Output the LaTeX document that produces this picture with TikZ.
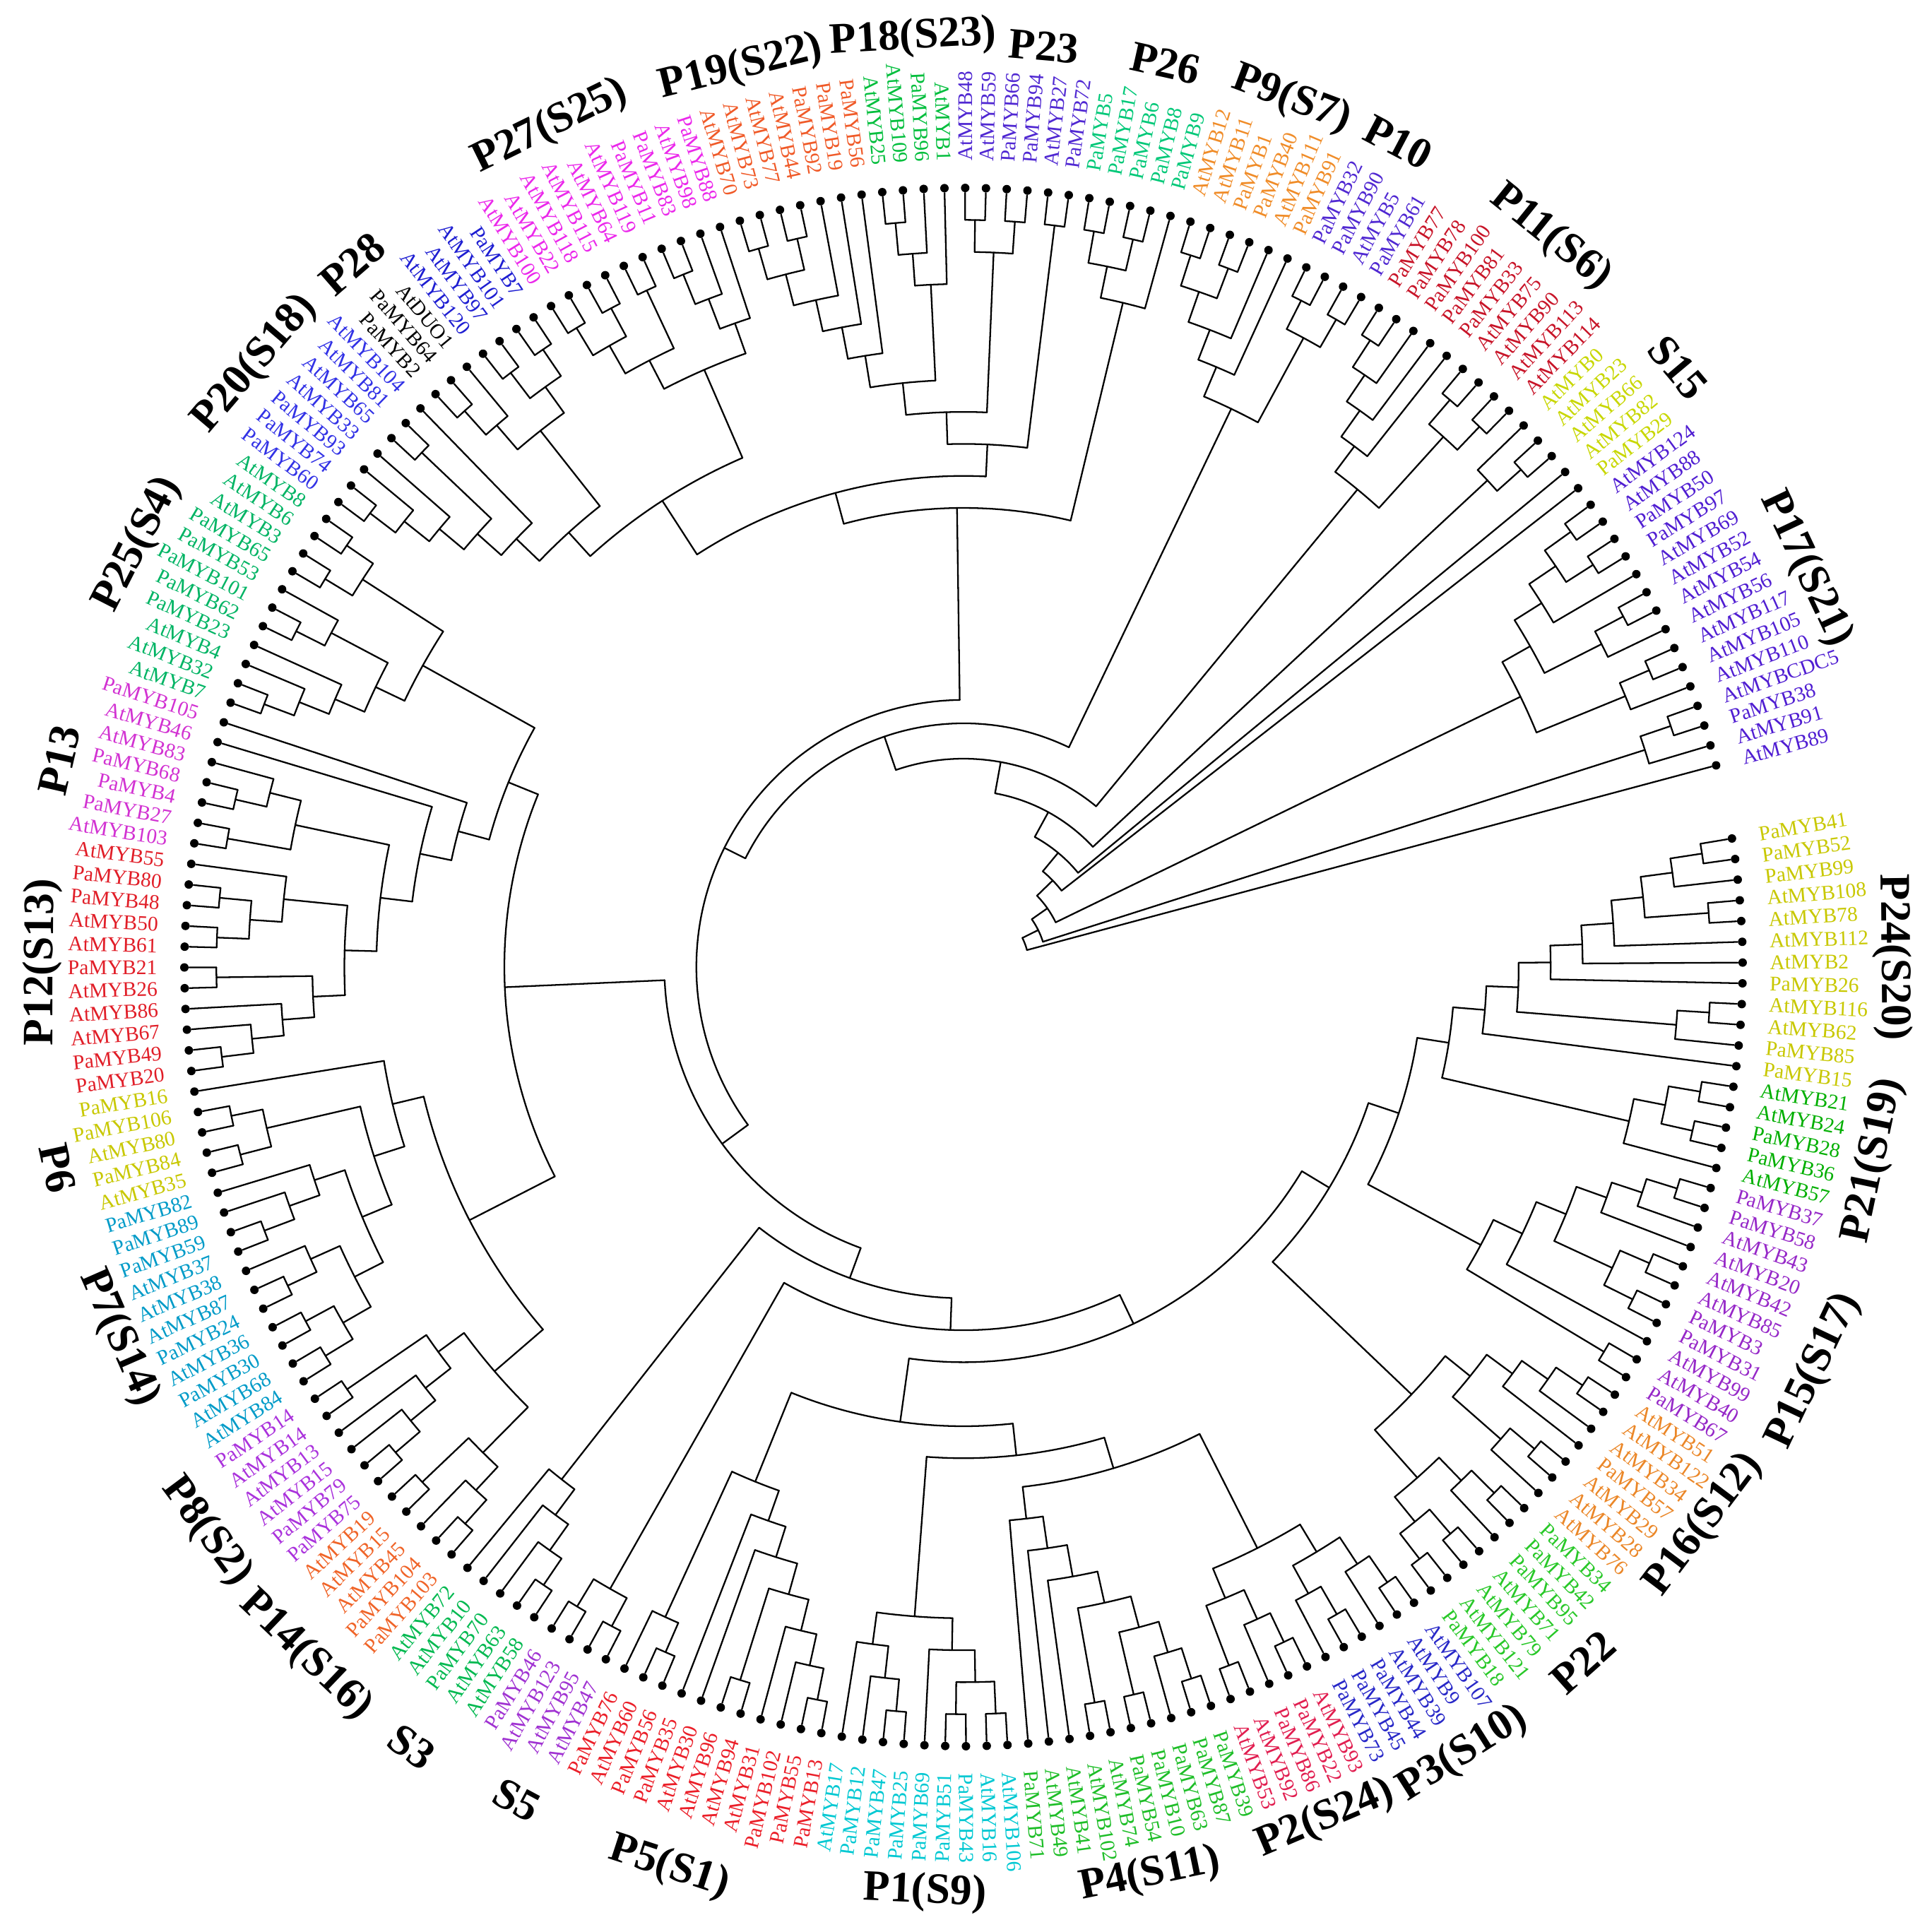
\documentclass[tikz,border=0pt]{standalone}
\usepackage{fontspec}
\setmainfont{Liberation Serif}
\definecolor{cP24}{RGB}{200,200,0}
\definecolor{cP21}{RGB}{0,175,0}
\definecolor{cP15}{RGB}{150,40,200}
\definecolor{cP16}{RGB}{235,135,40}
\definecolor{cP22}{RGB}{40,200,40}
\definecolor{cP3}{RGB}{40,40,200}
\definecolor{cP2}{RGB}{225,30,80}
\definecolor{cP4}{RGB}{30,190,40}
\definecolor{cP1}{RGB}{0,200,210}
\definecolor{cP5}{RGB}{235,30,40}
\definecolor{cS5}{RGB}{160,50,210}
\definecolor{cS3}{RGB}{0,185,80}
\definecolor{cP14}{RGB}{240,100,40}
\definecolor{cP8}{RGB}{170,50,220}
\definecolor{cP7}{RGB}{0,155,200}
\definecolor{cP6}{RGB}{200,200,0}
\definecolor{cP12}{RGB}{225,30,40}
\definecolor{cP13}{RGB}{210,50,210}
\definecolor{cP25}{RGB}{0,180,100}
\definecolor{cP20}{RGB}{50,50,230}
\definecolor{cP28}{RGB}{0,0,0}
\definecolor{cB4}{RGB}{30,30,210}
\definecolor{cP27}{RGB}{235,40,235}
\definecolor{cP19}{RGB}{240,90,40}
\definecolor{cP18}{RGB}{0,190,60}
\definecolor{cP23}{RGB}{80,40,210}
\definecolor{cP26}{RGB}{0,200,120}
\definecolor{cP9}{RGB}{240,140,40}
\definecolor{cP10}{RGB}{80,40,210}
\definecolor{cP11}{RGB}{200,20,40}
\definecolor{cS15}{RGB}{200,215,0}
\definecolor{cP17}{RGB}{80,30,210}

% leaf: index, colour, text
\newcommand\mylf[3]{%
  \pgfmathsetmacro\myLA{9.5-(#1-1)*1.528}%
  \expandafter\xdef\csname ang@L#1\endcsname{\myLA}%
  \expandafter\xdef\csname h@L#1\endcsname{0}%
  \node[leafdot] (L#1) at (\myLA:11.03) {};%
  \pgfmathsetmacro\myLC{cos(\myLA)}%
  \ifdim\myLC pt>0pt
    \node[leaflab, text=#2, anchor=west, rotate=\myLA] (T#1) at (\myLA:11.41) {#3};%
  \else
    \pgfmathsetmacro\myLR{\myLA+180}%
    \node[leaflab, text=#2, anchor=east, rotate=\myLR] (T#1) at (\myLA:11.41) {#3};%
  \fi
}
\newcommand\grpleaves[3]{%
  \xdef\myIdx{#1}%
  \foreach \myNm in {#3}{%
    \edef\myTmp{\noexpand\mylf{\myIdx}{#2}{\myNm}}\myTmp
    \pgfmathtruncatemacro\myNx{\myIdx+1}\xdef\myIdx{\myNx}%
  }%
}
% clade: name, radius (empty = from node height), children
\newcommand\cladeGen[3]{%
  \gdef\myMin{1000}\gdef\myMax{-1000}\gdef\myH{0}%
  \foreach \myCh in {#3}{%
    \edef\myChA{\csname ang@\myCh\endcsname}%
    \edef\myChH{\csname h@\myCh\endcsname}%
    \pgfmathsetmacro\myT{min(\myMin,\myChA)}\xdef\myMin{\myT}%
    \pgfmathsetmacro\myT{max(\myMax,\myChA)}\xdef\myMax{\myT}%
    \pgfmathtruncatemacro\myT{max(\myH,\myChH)}\xdef\myH{\myT}%
  }%
  \pgfmathtruncatemacro\myHH{\myH+1}%
  \if\relax\detokenize{#2}\relax
    \pgfmathsetmacro\myR{11.03-0.453*\myHH}%
  \else
    \def\myR{#2}%
  \fi
  \foreach \myCh in {#3}{%
    \edef\myChA{\csname ang@\myCh\endcsname}%
    \draw[branch] (\myCh) -- (\myChA:\myR);%
  }%
  \draw[branch] (\myMin:\myR) arc[start angle=\myMin, end angle=\myMax, radius=\myR];%
  \pgfmathsetmacro\myMid{(\myMin+\myMax)/2}%
  \expandafter\xdef\csname ang@#1\endcsname{\myMid}%
  \expandafter\xdef\csname h@#1\endcsname{\myHH}%
  \coordinate (#1) at (\myMid:\myR);%
}
\newcommand\clade[2]{\cladeGen{#1}{}{#2}}
\newcommand\cladeR[3]{\cladeGen{#1}{#2}{#3}}
% group label: name, angle, radius, text
\newcommand\grp[4]{%
  \pgfmathsetmacro\myGR{#2>=0 ? #2-90 : #2+90}%
  \node[grouplab, rotate=\myGR] (#1) at (#2:#3) {#4};%
}

\begin{document}
\begin{tikzpicture}[
  branch/.style={line width=0.65pt, line cap=round, line join=round},
  leafdot/.style={circle, fill=black, inner sep=0pt, minimum size=0.12cm},
  leaflab/.style={inner sep=0pt, font=\fontsize{8.4}{9}\selectfont},
  grouplab/.style={inner sep=0pt, font=\fontsize{17.5}{20}\selectfont\bfseries},
]
\useasboundingbox (-13.64,-13.66) rectangle (13.71,13.69);
\fill[white] (-13.64,-13.66) rectangle (13.71,13.69);

\grpleaves{1}{cP24}{PaMYB41,PaMYB52,PaMYB99,AtMYB108,AtMYB78,AtMYB112,AtMYB2,PaMYB26,AtMYB116,AtMYB62,PaMYB85,PaMYB15}
\grpleaves{13}{cP21}{AtMYB21,AtMYB24,PaMYB28,PaMYB36,AtMYB57}
\grpleaves{18}{cP15}{PaMYB37,PaMYB58,AtMYB43,AtMYB20,AtMYB42,AtMYB85,PaMYB3,PaMYB31,AtMYB99,AtMYB40,PaMYB67}
\grpleaves{29}{cP16}{AtMYB51,AtMYB122,AtMYB34,PaMYB57,AtMYB29,AtMYB28,AtMYB76}
\grpleaves{36}{cP22}{PaMYB34,PaMYB42,PaMYB95,AtMYB71,AtMYB79,AtMYB121,PaMYB18}
\grpleaves{43}{cP3}{AtMYB107,AtMYB9,AtMYB39,PaMYB44,PaMYB45,PaMYB73}
\grpleaves{49}{cP2}{AtMYB93,PaMYB22,PaMYB86,AtMYB92,AtMYB53}
\grpleaves{54}{cP4}{PaMYB39,PaMYB87,PaMYB63,PaMYB10,PaMYB54,AtMYB74,AtMYB102,AtMYB41,AtMYB49,PaMYB71}
\grpleaves{64}{cP1}{AtMYB106,AtMYB16,PaMYB43,PaMYB51,PaMYB69,PaMYB25,PaMYB47,PaMYB12,AtMYB17}
\grpleaves{73}{cP5}{PaMYB13,PaMYB55,PaMYB102,AtMYB31,AtMYB94,AtMYB96,AtMYB30,PaMYB35,PaMYB56,AtMYB60,PaMYB76}
\grpleaves{84}{cS5}{AtMYB47,AtMYB95,AtMYB123,PaMYB46}
\grpleaves{88}{cS3}{AtMYB58,AtMYB63,PaMYB70,AtMYB10,AtMYB72}
\grpleaves{93}{cP14}{PaMYB103,PaMYB104,AtMYB45,AtMYB15,AtMYB19}
\grpleaves{98}{cP8}{PaMYB75,PaMYB79,AtMYB15,AtMYB13,AtMYB14,PaMYB14}
\grpleaves{104}{cP7}{AtMYB84,AtMYB68,PaMYB30,AtMYB36,PaMYB24,AtMYB87,AtMYB38,AtMYB37,PaMYB59,PaMYB89,PaMYB82}
\grpleaves{115}{cP6}{AtMYB35,PaMYB84,AtMYB80,PaMYB106,PaMYB16}
\grpleaves{120}{cP12}{PaMYB20,PaMYB49,AtMYB67,AtMYB86,AtMYB26,PaMYB21,AtMYB61,AtMYB50,PaMYB48,PaMYB80,AtMYB55}
\grpleaves{131}{cP13}{AtMYB103,PaMYB27,PaMYB4,PaMYB68,AtMYB83,AtMYB46,PaMYB105}
\grpleaves{138}{cP25}{AtMYB7,AtMYB32,AtMYB4,PaMYB23,PaMYB62,PaMYB101,PaMYB53,PaMYB65,AtMYB3,AtMYB6,AtMYB8}
\grpleaves{149}{cP20}{PaMYB60,PaMYB74,PaMYB93,AtMYB33,AtMYB65,AtMYB81,AtMYB104}
\grpleaves{156}{cP28}{PaMYB2,PaMYB64,AtDUO1}
\grpleaves{159}{cB4}{AtMYB120,AtMYB97,AtMYB101,PaMYB7}
\grpleaves{163}{cP27}{AtMYB100,AtMYB22,AtMYB118,AtMYB115,AtMYB64,AtMYB119,PaMYB11,PaMYB83,AtMYB98,PaMYB88}
\grpleaves{173}{cP19}{AtMYB70,AtMYB73,AtMYB77,AtMYB44,PaMYB92,PaMYB19,PaMYB56}
\grpleaves{180}{cP18}{AtMYB25,AtMYB109,PaMYB96,AtMYB1}
\grpleaves{184}{cP23}{AtMYB48,AtMYB59,PaMYB66,PaMYB94,AtMYB27,PaMYB72}
\grpleaves{190}{cP26}{PaMYB5,PaMYB17,PaMYB6,PaMYB8,PaMYB9}
\grpleaves{195}{cP9}{AtMYB12,AtMYB11,PaMYB1,PaMYB40,AtMYB111,PaMYB91}
\grpleaves{201}{cP10}{PaMYB32,PaMYB90,AtMYB5,PaMYB61}
\grpleaves{205}{cP11}{PaMYB77,PaMYB78,PaMYB100,PaMYB81,PaMYB33,AtMYB75,AtMYB90,AtMYB113,AtMYB114}
\grpleaves{214}{cS15}{AtMYB0,AtMYB23,AtMYB66,AtMYB82,PaMYB29}
\grpleaves{219}{cP17}{AtMYB124,AtMYB88,PaMYB50,PaMYB97,AtMYB69,AtMYB52,AtMYB54,AtMYB56,AtMYB117,AtMYB105,AtMYB110,AtMYBCDC5,PaMYB38,AtMYB91,AtMYB89}

% P24 + P21
\clade{a1}{L1,L2}
\clade{a2}{a1,L3}
\clade{a3}{L4,L5}
\clade{a4}{a2,a3}
\clade{a5}{a4,L6}
\clade{a6}{a5,L7}
\clade{a7}{a6,L8}
\clade{a8}{L9,L10}
\clade{a9}{a8,L11}
\clade{a10}{a7,a9}
\clade{a11}{a10,L12}
\clade{a12}{L13,L14}
\clade{a13}{L15,L16}
\clade{a14}{a12,a13}
\clade{a15}{a14,L17}
\clade{a16}{a11,a15}
% P15
\clade{b1}{L18,L19}
\clade{b2}{b1,L20}
\clade{b3}{b2,L21}
\clade{b4}{L22,L23}
\clade{b5}{L24,L25}
\clade{b6}{b4,b5}
\clade{b7}{b3,b6}
\clade{b8}{b7,L26}
\clade{b9}{L27,L28}
\clade{b10}{b8,b9}
\clade{g0}{a16,b10}
% P16, P22
\clade{c1}{L29,L30}
\clade{c2}{c1,L31}
\clade{c3}{c2,L32}
\clade{c4}{L33,L34}
\clade{c5}{c4,L35}
\clade{c6}{c3,c5}
\clade{d1}{L36,L37}
\clade{d2}{d1,L38}
\clade{d3}{L39,L40}
\clade{d4}{L41,L42}
\clade{d5}{d3,d4}
\clade{d6}{d2,d5}
\clade{e1}{c6,d6}
\clade{e2}{g0,e1}
% P3, P2
\clade{f1}{L43,L44}
\clade{f2}{f1,L45}
\clade{f3}{L46,L47}
\clade{f4}{f3,L48}
\clade{f5}{f2,f4}
\clade{g1}{L49,L50}
\clade{g2}{g1,L51}
\clade{g3}{L52,L53}
\clade{g4}{g2,g3}
\clade{g5}{f5,g4}
% P4
\clade{h1}{L54,L55}
\clade{h2}{h1,L56}
\clade{h3}{L57,L58}
\clade{h4}{h3,h2}
\clade{h5}{L59,L60}
\clade{h6}{h5,h4}
\clade{h7}{h6,L61}
\clade{h8}{h7,L62}
\clade{h9}{h8,L63}
\clade{h10}{h9,g5}
% P1
\clade{i1}{L64,L65}
\clade{i2}{L66,L67}
\clade{i3}{i1,i2}
\clade{i4}{i3,L68}
\clade{i5}{L69,L70}
\clade{i6}{i5,L71}
\clade{i7}{i6,L72}
\clade{i8}{i4,i7}
\clade{i9}{h10,i8}
% P5
\clade{k1}{L73,L74}
\clade{k2}{k1,L75}
\clade{k3}{k2,L76}
\clade{k4}{L77,L78}
\clade{k5}{k3,k4}
\clade{k6}{k5,L79}
\clade{k7}{k6,L80}
\clade{k8}{L81,L82}
\clade{k9}{k8,L83}
\clade{k10}{k7,k9}
\clade{m0}{k10,i9}
\clade{q0}{m0,e2}
% S5, S3
\clade{s1}{L84,L85}
\clade{s2}{L86,L87}
\clade{s3}{s1,s2}
\clade{t1}{L88,L89}
\clade{t2}{t1,L90}
\clade{t3}{t2,L91}
\clade{t4}{t3,L92}
% P14, P8
\clade{u1}{L93,L94}
\clade{u2}{u1,L95}
\clade{u3}{L96,L97}
\clade{u4}{u2,u3}
\clade{v1}{L98,L99}
\clade{v2}{v1,L100}
\clade{v3}{v2,L101}
\clade{v4}{L102,L103}
\clade{v5}{v3,v4}
\clade{v6}{u4,v5}
% P7, P6
\clade{w1}{L104,L105}
\clade{w2}{L106,L107}
\clade{w3}{w1,w2}
\clade{w4}{L108,L109}
\clade{w5}{w4,L110}
\clade{w6}{w3,w5}
\clade{w7}{L111,L112}
\clade{w8}{w7,L113}
\clade{w9}{w8,L114}
\clade{w10}{w6,w9}
\clade{x1}{L115,L116}
\clade{x2}{L117,L118}
\clade{x3}{x1,x2}
\clade{x4}{w10,x3}
\clade{x5}{x4,L119}
\clade{lb}{v6,x5}
% P12, P13
\clade{z1}{L120,L121}
\clade{z2}{z1,L122}
\clade{z3}{z2,L123}
\clade{z4}{L124,L125}
\clade{z5}{z3,z4}
\clade{z6}{L126,L127}
\clade{z7}{L128,L129}
\clade{z8}{z6,z7}
\clade{z9}{z8,L130}
\clade{z10}{z5,z9}
\clade{y1}{L131,L132}
\clade{y2}{L133,L134}
\clade{y3}{y2,L135}
\clade{y4}{y1,y3}
\clade{z11}{z10,y4}
\clade{z12}{z11,L136}
\clade{z13}{z12,L137}
% P25
\clade{p1}{L138,L139}
\clade{p2}{p1,L140}
\clade{p3}{p2,L141}
\clade{p4}{L142,L143}
\clade{p5}{p4,L144}
\clade{p6}{p3,p5}
\clade{p7}{L145,L146}
\clade{p8}{L147,L148}
\clade{p9}{p7,p8}
\clade{p10}{p6,p9}
\clade{zz9}{p10,z13}
\clade{nl}{lb,zz9}
% P20, P28, blue group
\clade{q1}{L149,L150}
\clade{q2}{q1,L151}
\clade{q3}{q2,L152}
\clade{q4}{L153,L154}
\clade{q5}{q3,q4}
\clade{q6}{q5,L155}
\clade{r1}{L156,L157}
\clade{r2}{r1,L158}
\clade{r3}{L159,L160}
\clade{r4}{L161,L162}
\clade{r5}{r3,r4}
\clade{r6}{r2,r5}
\clade{r7}{q6,r6}
% P27
\clade{n1}{L163,L164}
\clade{n2}{L165,L166}
\clade{n3}{n1,n2}
\clade{n4}{L167,L168}
\clade{n5}{n3,n4}
\clade{n6}{L169,L170}
\clade{n7}{n6,L171}
\clade{n8}{n7,L172}
\clade{n9}{n5,n8}
\clade{nA}{r7,n9}
% P19, P18, P23
\clade{o1}{L173,L174}
\clade{o2}{L175,L176}
\clade{o3}{o1,o2}
\clade{o4}{o3,L177}
\clade{o5}{o4,L178}
\clade{o6}{o5,L179}
\clade{j1}{L180,L181}
\clade{j2}{j1,L182}
\clade{j3}{j2,L183}
\clade{nB}{o6,j3}
\clade{j4}{L184,L185}
\clade{j5}{L186,L187}
\clade{j6}{j4,j5}
\clade{nC}{nB,j6}
\clade{j7}{L188,L189}
\clade{nD}{nC,j7}
\clade{kk}{nA,nD}
% P26
\clade{l1}{L190,L191}
\clade{l2}{L192,L193}
\clade{l3}{l1,l2}
\clade{l4}{l3,L194}
\clade{top}{kk,l4}
% P9, P10
\clade{m1}{L195,L196}
\clade{m2}{L197,L198}
\clade{m3}{m1,m2}
\clade{m4}{m3,L199}
\clade{m5}{m4,L200}
\clade{m7}{L201,L202}
\clade{m8}{L203,L204}
\clade{m9}{m7,m8}
\clade{m6}{m5,m9}
% P11
\clade{pa}{L205,L206}
\clade{pb}{pa,L207}
\clade{pc}{pb,L208}
\clade{pd}{pc,L209}
\clade{pe}{L210,L211}
\clade{pf}{L212,L213}
\clade{pg}{pe,pf}
\clade{ph}{pd,pg}
% S15
\clade{sa}{L215,L216}
\clade{sc}{L214,sa}
% P17
\clade{qa}{L219,L220}
\clade{qb}{L221,L222}
\clade{qc}{qa,qb}
\clade{qf}{qc,L223}
\clade{qd}{L224,L225}
\clade{qe}{qd,L226}
\clade{qg}{qf,qe}
\clade{qh}{L227,L228}
\clade{qi}{qh,L229}
\clade{qj}{qg,qi}
\clade{qk}{L230,L231}
\clade{ql}{qk,L232}
% backbone
\clade{bb1}{q0,s3}
\clade{bb2}{bb1,t4}
\clade{bb3}{bb2,nl}
\clade{bb4}{bb3,top}
\cladeR{bb5}{3.45}{bb4,m6}
\cladeR{bb6}{2.95}{bb5,ph}
\cladeR{bb7}{2.50}{bb6,sc}
\cladeR{bb8}{2.10}{bb7,L217}
\cladeR{bb9}{1.76}{bb8,L218}
\cladeR{bb10}{1.45}{bb9,qj}
\cladeR{bb11}{1.18}{bb10,ql}
\cladeR{root}{0.93}{bb11,L233}

% group labels
\grp{G1}{0.6}{13.15}{P24(S20)}
\grp{G2}{-12.0}{13.17}{P21(S19)}
\grp{G3}{-25.4}{13.33}{P15(S17)}
\grp{G4}{-37.0}{13.12}{P16(S12)}
\grp{G5}{-48.3}{13.18}{P22}
\grp{G6}{-57.6}{13.19}{P3(S10)}
\grp{G7}{-67.0}{13.10}{P2(S24)}
\grp{G8}{-78.4}{13.12}{P4(S11)}
\grp{G9}{-92.4}{13.11}{P1(S9)}
\grp{G10}{-108.1}{13.41}{P5(S1)}
\grp{G11}{-118.2}{13.38}{S5}
\grp{G12}{-125.3}{13.53}{S3}
\grp{G13}{-133.7}{13.48}{P14(S16)}
\grp{G14}{-143.3}{13.37}{P8(S2)}
\grp{G15}{-156.3}{13.06}{P7(S14)}
\grp{G16}{-167.5}{13.14}{P6}
\grp{G17}{179.7}{13.04}{P12(S13)}
\grp{G18}{167.1}{13.13}{P13}
\grp{G19}{152.9}{13.13}{P25(S4)}
\grp{G20}{139.6}{13.17}{P20(S18)}
\grp{G21}{131.0}{13.19}{P28}
\grp{G22}{116.2}{13.26}{P27(S25)}
\grp{G23}{103.9}{13.12}{P19(S22)}
\grp{G24}{93.1}{13.17}{P18(S23)}
\grp{G25}{85.0}{13.08}{P23}
\grp{G26}{77.4}{13.11}{P26}
\grp{G27}{69.3}{13.13}{P9(S7)}
\grp{G28}{62.2}{13.20}{P10}
\grp{G29}{51.2}{13.26}{P11(S6)}
\grp{G30}{40.0}{13.20}{S15}
\grp{G31}{25.3}{13.19}{P17(S21)}
\end{tikzpicture}
\end{document}
